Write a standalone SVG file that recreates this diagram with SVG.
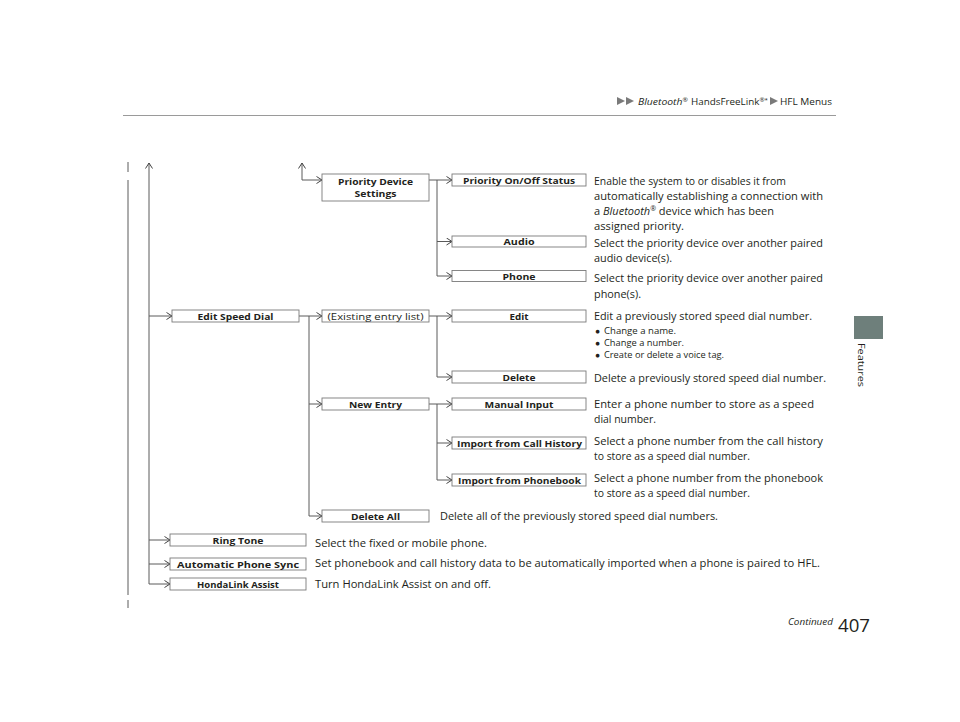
<svg xmlns="http://www.w3.org/2000/svg" width="960" height="722" viewBox="0 0 960 722">
<style>
.ln{stroke:#5a5a5a;stroke-width:1;fill:none}
.arr{marker-end:url(#ah)}
.box{fill:#fff;stroke:#7a7a7a;stroke-width:0.9}
.lb{font-family:"Open Sans","Noto Sans",sans-serif;font-weight:bold;font-size:9.5px;fill:#231f20;text-anchor:middle}
.lr{font-family:"Open Sans","Noto Sans",sans-serif;font-size:9.5px;fill:#231f20;text-anchor:middle}
.d{font-family:"Open Sans","Noto Sans",sans-serif;font-size:11px;fill:#231f20}
.s{font-family:"Open Sans","Noto Sans",sans-serif;font-size:8.5px;fill:#231f20}
.h{font-family:"Open Sans","Noto Sans",sans-serif;font-size:9.5px;fill:#231f20}
</style>
<defs>
<marker id="ah" viewBox="0 0 6 8" refX="5.8" refY="4" markerWidth="6" markerHeight="8" markerUnits="userSpaceOnUse" orient="auto">
<path d="M0.3,0.5 L5.8,4 L0.3,7.5" fill="none" stroke="#444" stroke-width="1"/>
</marker>
</defs>
<rect width="960" height="722" fill="#fff"/>

<g id="header">
<polygon points="617,97 625,101 617,105" fill="#7a7a7a"/>
<polygon points="626,97 634,101 626,105" fill="#7a7a7a"/>
<text class="h" x="638" y="104.5" textLength="50" lengthAdjust="spacingAndGlyphs"><tspan font-style="italic">Bluetooth</tspan><tspan font-size="6" dy="-3">®</tspan></text>
<text class="h" x="691" y="104.5" textLength="77" lengthAdjust="spacingAndGlyphs">HandsFreeLink<tspan font-size="6" dy="-3">®*</tspan></text>
<polygon points="770,97 778,101 770,105" fill="#7a7a7a"/>
<text class="h" x="780" y="104.5" textLength="52" lengthAdjust="spacingAndGlyphs">HFL Menus</text>
<line x1="123" y1="115.5" x2="836" y2="115.5" stroke="#9a9a9a" stroke-width="1.2"/>
</g>

<g id="tab">
<rect x="854" y="316" width="29" height="23" fill="#6e7f7b"/>
<text class="h" transform="translate(858,343) rotate(90)" font-size="10" textLength="44" lengthAdjust="spacingAndGlyphs">Features</text>
</g>

<g id="footer">
<text class="h" x="788" y="625" font-style="italic" textLength="45" lengthAdjust="spacingAndGlyphs">Continued</text>
<text x="838" y="632" font-family="'Open Sans','Noto Sans',sans-serif" font-size="19" fill="#231f20" textLength="32" lengthAdjust="spacingAndGlyphs">407</text>
</g>

<g id="connectors">
<path class="ln" d="M128,162 V172 M128,180 V595 M128,600 V608"/>
<path class="ln arr" d="M149,584 V163"/>
<path class="ln arr" d="M149,584 H170"/>
<path class="ln arr" d="M149,316 H172"/>
<path class="ln arr" d="M149,540 H170"/>
<path class="ln arr" d="M149,564 H170"/>
<path class="ln arr" d="M302,180 V163"/>
<path class="ln arr" d="M302,180 H322"/>
<path class="ln arr" d="M429,180 H452"/>
<path class="ln" d="M437,180 V276"/>
<path class="ln arr" d="M437,241.5 H452"/>
<path class="ln arr" d="M437,276 H452"/>
<path class="ln arr" d="M299,316 H322"/>
<path class="ln" d="M309,316 V516"/>
<path class="ln arr" d="M309,404 H322"/>
<path class="ln arr" d="M309,516 H322"/>
<path class="ln arr" d="M429,316 H452"/>
<path class="ln" d="M437,316 V377"/>
<path class="ln arr" d="M437,377 H452"/>
<path class="ln arr" d="M429,404 H452"/>
<path class="ln" d="M437,404 V480"/>
<path class="ln arr" d="M437,443 H452"/>
<path class="ln arr" d="M437,480 H452"/>
</g>

<g id="n-priority-device-settings">
<rect class="box" x="322" y="174" width="107" height="27"/>
<text class="lb" x="375.5" y="184.5" textLength="75" lengthAdjust="spacingAndGlyphs">Priority Device</text>
<text class="lb" x="375.5" y="197" textLength="42" lengthAdjust="spacingAndGlyphs">Settings</text>
</g>
<g id="n-priority-onoff">
<rect class="box" x="452" y="174" width="134" height="12"/>
<text class="lb" x="519" y="183.5" textLength="112" lengthAdjust="spacingAndGlyphs">Priority On/Off Status</text>
<text class="d" x="594" y="185" textLength="192" lengthAdjust="spacingAndGlyphs">Enable the system to or disables it from</text>
<text class="d" x="594" y="200" textLength="229" lengthAdjust="spacingAndGlyphs">automatically establishing a connection with</text>
<text class="d" x="594" y="215" textLength="180" lengthAdjust="spacingAndGlyphs">a <tspan font-style="italic">Bluetooth</tspan><tspan font-size="7" baseline-shift="4">®</tspan> device which has been</text>
<text class="d" x="594" y="230" textLength="90" lengthAdjust="spacingAndGlyphs">assigned priority.</text>
</g>
<g id="n-audio">
<rect class="box" x="452" y="236" width="134" height="11"/>
<text class="lb" x="519" y="245" textLength="31" lengthAdjust="spacingAndGlyphs">Audio</text>
<text class="d" x="594" y="247" textLength="229" lengthAdjust="spacingAndGlyphs">Select the priority device over another paired</text>
<text class="d" x="594" y="262" textLength="78" lengthAdjust="spacingAndGlyphs">audio device(s).</text>
</g>
<g id="n-phone">
<rect class="box" x="452" y="270.5" width="134" height="11"/>
<text class="lb" x="519" y="279.5" textLength="33" lengthAdjust="spacingAndGlyphs">Phone</text>
<text class="d" x="594" y="282" textLength="229" lengthAdjust="spacingAndGlyphs">Select the priority device over another paired</text>
<text class="d" x="594" y="298" textLength="47" lengthAdjust="spacingAndGlyphs">phone(s).</text>
</g>
<g id="n-edit-speed-dial">
<rect class="box" x="172" y="310" width="127" height="12"/>
<text class="lb" x="235.5" y="319.5" textLength="76" lengthAdjust="spacingAndGlyphs">Edit Speed Dial</text>
</g>
<g id="n-existing">
<rect class="box" x="322" y="310" width="107" height="12"/>
<text class="lr" x="375.5" y="319.5" textLength="96" lengthAdjust="spacingAndGlyphs">(Existing entry list)</text>
</g>
<g id="n-edit">
<rect class="box" x="452" y="310" width="134" height="12"/>
<text class="lb" x="519" y="319.5" textLength="19" lengthAdjust="spacingAndGlyphs">Edit</text>
<text class="d" x="594" y="320" textLength="218" lengthAdjust="spacingAndGlyphs">Edit a previously stored speed dial number.</text>
<text class="s" x="595" y="334" font-size="6">●</text>
<text class="s" x="604" y="334" textLength="72" lengthAdjust="spacingAndGlyphs">Change a name.</text>
<text class="s" x="595" y="346" font-size="6">●</text>
<text class="s" x="604" y="346" textLength="80" lengthAdjust="spacingAndGlyphs">Change a number.</text>
<text class="s" x="595" y="358" font-size="6">●</text>
<text class="s" x="604" y="358" textLength="120" lengthAdjust="spacingAndGlyphs">Create or delete a voice tag.</text>
</g>
<g id="n-delete">
<rect class="box" x="452" y="371" width="134" height="12"/>
<text class="lb" x="519" y="380.5" textLength="33" lengthAdjust="spacingAndGlyphs">Delete</text>
<text class="d" x="594" y="382" textLength="232" lengthAdjust="spacingAndGlyphs">Delete a previously stored speed dial number.</text>
</g>
<g id="n-new-entry">
<rect class="box" x="322" y="398" width="107" height="12"/>
<text class="lb" x="375.5" y="407.5" textLength="53" lengthAdjust="spacingAndGlyphs">New Entry</text>
</g>
<g id="n-manual-input">
<rect class="box" x="452" y="398" width="134" height="12"/>
<text class="lb" x="519" y="407.5" textLength="69" lengthAdjust="spacingAndGlyphs">Manual Input</text>
<text class="d" x="594" y="408" textLength="220" lengthAdjust="spacingAndGlyphs">Enter a phone number to store as a speed</text>
<text class="d" x="594" y="423" textLength="62" lengthAdjust="spacingAndGlyphs">dial number.</text>
</g>
<g id="n-import-call-history">
<rect class="box" x="452" y="437" width="134" height="12"/>
<text class="lb" x="519.5" y="446.5" textLength="125" lengthAdjust="spacingAndGlyphs">Import from Call History</text>
<text class="d" x="594" y="445" textLength="229" lengthAdjust="spacingAndGlyphs">Select a phone number from the call history</text>
<text class="d" x="594" y="460" textLength="156" lengthAdjust="spacingAndGlyphs">to store as a speed dial number.</text>
</g>
<g id="n-import-phonebook">
<rect class="box" x="452" y="474" width="134" height="12"/>
<text class="lb" x="519.5" y="483.5" textLength="123" lengthAdjust="spacingAndGlyphs">Import from Phonebook</text>
<text class="d" x="594" y="482" textLength="229" lengthAdjust="spacingAndGlyphs">Select a phone number from the phonebook</text>
<text class="d" x="594" y="497" textLength="156" lengthAdjust="spacingAndGlyphs">to store as a speed dial number.</text>
</g>
<g id="n-delete-all">
<rect class="box" x="322" y="510" width="107" height="12"/>
<text class="lb" x="375.5" y="519.5" textLength="49" lengthAdjust="spacingAndGlyphs">Delete All</text>
<text class="d" x="440" y="520" textLength="278" lengthAdjust="spacingAndGlyphs">Delete all of the previously stored speed dial numbers.</text>
</g>
<g id="n-ring-tone">
<rect class="box" x="170" y="534" width="136" height="12"/>
<text class="lb" x="238" y="543.5" textLength="51" lengthAdjust="spacingAndGlyphs">Ring Tone</text>
<text class="d" x="315" y="547" textLength="172" lengthAdjust="spacingAndGlyphs">Select the fixed or mobile phone.</text>
</g>
<g id="n-auto-phone-sync">
<rect class="box" x="170" y="558" width="136" height="12"/>
<text class="lb" x="238" y="567.5" textLength="122" lengthAdjust="spacingAndGlyphs">Automatic Phone Sync</text>
<text class="d" x="315" y="567" textLength="505" lengthAdjust="spacingAndGlyphs">Set phonebook and call history data to be automatically imported when a phone is paired to HFL.</text>
</g>
<g id="n-hondalink-assist">
<rect class="box" x="170" y="578" width="136" height="12"/>
<text class="lb" x="238" y="587.5" textLength="82" lengthAdjust="spacingAndGlyphs">HondaLink Assist</text>
<text class="d" x="315" y="588" textLength="176" lengthAdjust="spacingAndGlyphs">Turn HondaLink Assist on and off.</text>
</g>
</svg>
